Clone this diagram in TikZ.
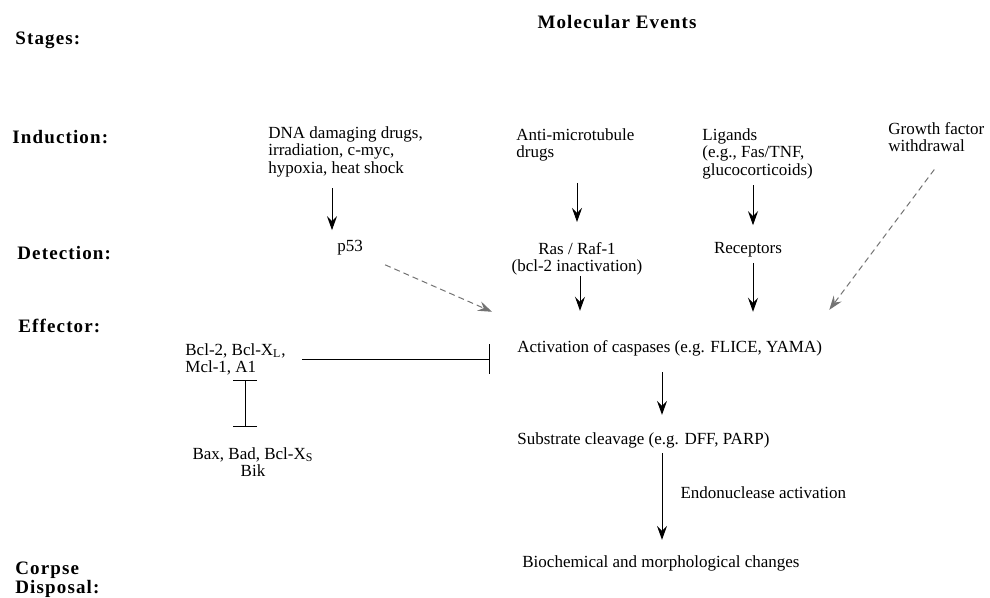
\documentclass[tikz,border=0pt]{standalone}
\usepackage{fontspec}
\setmainfont{Liberation Serif}
\newfontfamily\stagefont[LetterSpace=6]{Liberation Serif}
\usepackage{tikz}
\usetikzlibrary{arrows.meta,positioning,calc}
\tikzset{
    %Define standard arrow tip
    >={Stealth[length=7pt,width=5pt,inset=2.5pt]},
    %Define style for stage labels
    title/.style={
           font={\fontsize{9.5}{9.2}\stagefont\bfseries}, anchor=west, inner sep=0pt, align=left},
    %Define style for event texts
    event/.style={
           font={\fontsize{8.5}{8.8}\selectfont}, anchor=north west, inner sep=0pt, align=left},
    eventc/.style={
           event, anchor=center, align=center},
    % Define arrow style
    pil/.style={
           ->,
           line width=0.5pt},
    faint/.style={
           pil, densely dashed, draw=black!55},
    block/.style={
           -{Bar[width=15pt]},
           line width=0.5pt},
    mutual/.style={
           {Bar[width=12pt]}-{Bar[width=12pt]},
           line width=0.5pt}
}

\begin{document}
\begin{tikzpicture}[x=0.5pt,y=-0.5pt]
	\useasboundingbox (0,0) rectangle (990,598);

	% Stages column
	\node[title](stages) at (15,40){Stages:};
	\node[title](induct) at (12,137){Induction:};
	\node[title](detect) at (17,253){Detection:};
	\node[title](effect) at (18,326){Effector:};
	\node[title, anchor=north west](corpse) at (15,562){Corpse\\Disposal:};
	\node[title, anchor=center](molev) at (617,22){Molecular Events};

	% Induction
	\node[event](dna) at (268,126){DNA damaging drugs,\\irradiation, c-myc,\\hypoxia, heat shock};
	\node[event](amt) at (516,128){Anti-microtubule\\drugs};
	\node[event](lig) at (702,128){Ligands\\(e.g., Fas/TNF,\\glucocorticoids)};
	\node[event](gfw) at (888,122){Growth factor\\withdrawal};

	% Detection
	\node[eventc](p53) at (350,248){p53};
	\node[eventc](ras) at (577,259){Ras / Raf-1\\(bcl-2 inactivation)};
	\node[eventc](rec) at (748,250){Receptors};

	% Effector
	\node[event, anchor=west](casp) at (517,348){Activation of caspases (e.g. FLICE, YAMA)};
	\node[event](bcl) at (185,343){Bcl-2, Bcl-X\textsubscript{L},\\Mcl-1, A1};
	\node[eventc](bax) at (253,462){Bax, Bad, Bcl-X\textsubscript{S}\\Bik};
	\node[event, anchor=west](sub) at (517,440){Substrate cleavage (e.g. DFF, PARP)};
	\node[event, anchor=west](bio) at (522,563){Biochemical and morphological changes};

	% Induction -> detection
	\draw[pil] ($(dna.south -| p53.north)+(-18,11)$) -- ($(p53.north)+(-18,-10)$);
	\draw[pil] ($(amt.south -| ras.north)+(0,21)$) -- ($(ras.north)+(0,-20)$);
	\draw[pil] ($(lig.south -| rec.north)+(5,6)$) -- ($(rec.north)+(5,-17)$);

	% Detection -> caspases
	\draw[faint] ($(p53.south east)+(22,9)$) -- ($(casp.north west)+(-25,-28)$);
	\draw[pil] ($(ras.south)+(3,0)$) -- ($(casp.north -| ras.south)+(3,-29)$);
	\draw[pil] ($(rec.south)+(5,5)$) -- ($(casp.north -| rec.south)+(5,-28)$);
	\draw[faint] ($(gfw.south)+(-2,17)$) -- ($(casp.north east)+(7,-30)$);

	% Bcl family
	\draw[block] ($(bcl.east)+(16,0)$) -- ($(casp.west |- bcl.east)+(-27,0)$);
	\draw[mutual] ($(bax.north |- bcl.south)+(-8,4)$) -- ($(bax.north)+(-8,-20)$);

	% Execution
	\draw[pil] ($(casp.south west)+(145,16)$) -- ($(sub.north west)+(145,-17)$);
	\draw[pil] ($(sub.south west)+(145,5)$) -- ($(bio.north west)+(140,-15)$)
	    node[event, anchor=west, pos=0.46, xshift=9pt]{Endonuclease activation};

\end{tikzpicture}
\end{document}
